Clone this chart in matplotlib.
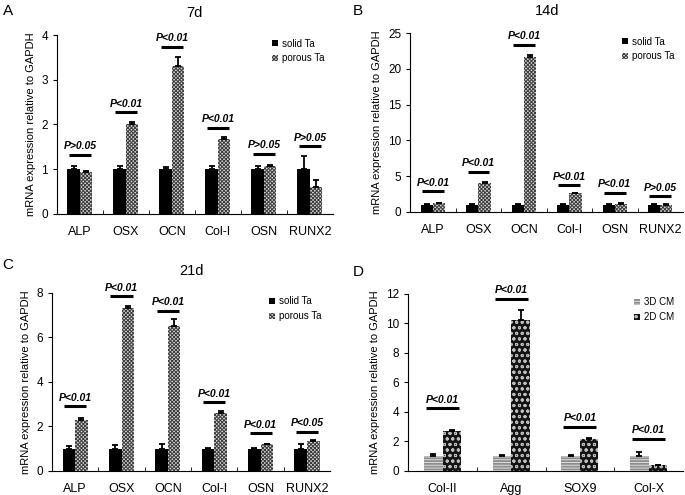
import matplotlib.pyplot as plt
from matplotlib.patches import Patch

plt.rcParams["font.family"] = ["Liberation Sans", "DejaVu Sans"]
plt.rcParams["hatch.linewidth"] = 0.7

# Panel A - 7d
genes = ["ALP", "OSX", "OCN", "Col-I", "OSN", "RUNX2"]
a_solid = [1.0, 1.0, 1.0, 1.0, 1.0, 1.0]
a_solid_err = [0.08, 0.08, 0.05, 0.08, 0.07, 0.3]
a_porous = [0.93, 2.0, 3.32, 1.67, 1.08, 0.6]
a_porous_err = [0.02, 0.06, 0.18, 0.06, 0.02, 0.15]
a_p_y = [1.32, 2.27, 3.74, 1.93, 1.34, 1.51]
a_p_txt = ["P>0.05", "P<0.01", "P<0.01", "P<0.01", "P>0.05", "P>0.05"]

# Panel B - 14d
b_solid = [1.0, 1.0, 1.0, 1.0, 1.0, 1.0]
b_solid_err = [0.1, 0.1, 0.1, 0.1, 0.08, 0.1]
b_porous = [1.2, 4.0, 21.6, 2.6, 1.15, 0.9]
b_porous_err = [0.1, 0.15, 0.3, 0.1, 0.1, 0.15]
b_p_y = [2.9, 5.6, 23.4, 3.7, 2.65, 2.2]
b_p_txt = ["P<0.01", "P<0.01", "P<0.01", "P<0.01", "P<0.01", "P>0.05"]

# Panel C - 21d
c_solid = [1.0, 1.0, 1.0, 1.0, 1.0, 1.0]
c_solid_err = [0.12, 0.15, 0.22, 0.05, 0.05, 0.22]
c_porous = [2.3, 7.3, 6.5, 2.6, 1.2, 1.35]
c_porous_err = [0.08, 0.12, 0.32, 0.08, 0.03, 0.05]
c_p_y = [2.9, 7.85, 7.18, 3.09, 1.7, 1.77]
c_p_txt = ["P<0.01", "P<0.01", "P<0.01", "P<0.01", "P<0.01", "P<0.05"]

# Panel D - chondrocyte markers
d_genes = ["Col-II", "Agg", "SOX9", "Col-X"]
d_3d = [1.0, 1.0, 1.0, 1.0]
d_3d_err = [0.12, 0.05, 0.05, 0.3]
d_2d = [2.7, 10.25, 2.2, 0.38]
d_2d_err = [0.05, 0.65, 0.03, 0.05]
d_p_y = [4.25, 11.65, 3.0, 2.2]
d_p_txt = ["P<0.01", "P<0.01", "P<0.01", "P<0.01"]

w = 0.27


def draw_bars(ax, x, vals, errs, face, hatch, hatch_col):
    ax.bar(x, vals, w, color=face, edgecolor="none", zorder=2)
    if hatch:
        ax.bar(x, vals, w, color="none", edgecolor=hatch_col, hatch=hatch,
               linewidth=0, zorder=3)
    ax.errorbar(x, vals, yerr=[[0] * len(vals), errs], fmt="none",
                ecolor="black", elinewidth=1.3, capsize=2.5, capthick=1.3,
                zorder=4)


def panel(ax, cats, v1, e1, v2, e2, py, ptxt, ymax, ystep, title,
          style1, style2, labels):
    x = list(range(len(cats)))
    x1 = [i - w / 2 for i in x]
    x2 = [i + w / 2 for i in x]
    draw_bars(ax, x1, v1, e1, *style1)
    draw_bars(ax, x2, v2, e2, *style2)
    for i, (yy, t) in enumerate(zip(py, ptxt)):
        ax.plot([i - 0.24, i + 0.24], [yy, yy], color="black", lw=2.2,
                solid_capstyle="butt")
        ax.text(i, yy + ymax * 0.02, t, ha="center", va="bottom",
                fontsize=7.5, fontweight="bold", fontstyle="italic")
    ax.set_xlim(-0.5, len(cats) - 0.5)
    ax.set_ylim(0, ymax)
    ax.set_yticks(range(0, ymax + 1, ystep))
    ax.set_xticks(x)
    ax.set_xticklabels(cats, fontsize=9)
    ax.set_xticks([i + 0.5 for i in x[:-1]], minor=True)
    ax.tick_params(axis="x", which="major", length=0, pad=9)
    ax.tick_params(axis="x", which="minor", direction="in", length=3)
    ax.tick_params(axis="y", direction="out", length=3, labelsize=8.5)
    ax.spines["top"].set_visible(False)
    ax.spines["right"].set_visible(False)
    ax.set_ylabel("mRNA expression relative to GAPDH", fontsize=8)
    if title:
        ax.set_title(title, fontsize=10.5, pad=13)
    handles = [Patch(facecolor=style1[0], edgecolor=style1[2], hatch=style1[1], lw=0),
               Patch(facecolor=style2[0], edgecolor=style2[2], hatch=style2[1], lw=0)]
    ax.legend(handles, labels, loc="upper right", frameon=False, fontsize=7,
              handlelength=0.6, handleheight=0.6, handletextpad=0.4,
              bbox_to_anchor=(1.0, 1.03))


fig = plt.figure(figsize=(6.85, 4.95), dpi=100)
axA = fig.add_axes([0.083, 0.568, 0.403, 0.361])
axB = fig.add_axes([0.599, 0.572, 0.398, 0.361])
axC = fig.add_axes([0.076, 0.0485, 0.406, 0.36])
axD = fig.add_axes([0.596, 0.0485, 0.401, 0.358])

solid = ("black", None, "black")
porous = ("#d8d8d8", "xxxxxxxxx", "#3a3a3a")
cm3d = ("#8c8c8c", "------", "#e0e0e0")
cm2d = ("#141414", "ooo", "#bdbdbd")

panel(axA, genes, a_solid, a_solid_err, a_porous, a_porous_err, a_p_y, a_p_txt,
      4, 1, "7d", solid, porous, ["solid Ta", "porous Ta"])
panel(axB, genes, b_solid, b_solid_err, b_porous, b_porous_err, b_p_y, b_p_txt,
      25, 5, "14d", solid, porous, ["solid Ta", "porous Ta"])
panel(axC, genes, c_solid, c_solid_err, c_porous, c_porous_err, c_p_y, c_p_txt,
      8, 2, "21d", solid, porous, ["solid Ta", "porous Ta"])
panel(axD, d_genes, d_3d, d_3d_err, d_2d, d_2d_err, d_p_y, d_p_txt,
      12, 2, "", cm3d, cm2d, ["3D CM", "2D CM"])

fig.text(0.004, 0.978, "A", fontsize=11, va="center")
fig.text(0.515, 0.978, "B", fontsize=11, va="center")
fig.text(0.004, 0.465, "C", fontsize=11, va="center")
fig.text(0.515, 0.45, "D", fontsize=11, va="center")

fig.savefig("out.png", dpi=100)
